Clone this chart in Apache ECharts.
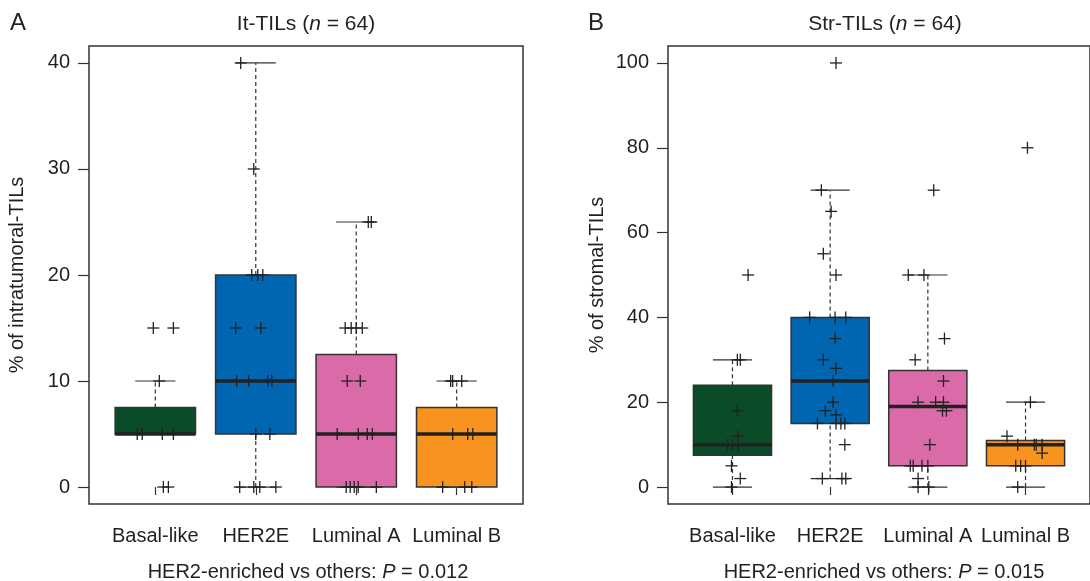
<!DOCTYPE html>
<html><head><meta charset="utf-8">
<script src="https://cdn.jsdelivr.net/npm/echarts@6/dist/echarts.min.js"></script>
<style>html,body{margin:0;padding:0;background:#fff}#c{width:1090px;height:581px}</style>
</head><body><div id="c"></div>
<script>
const categories = ['Basal-like', 'HER2E', 'Luminal A', 'Luminal B'];
const boxColors = ['#0a4b28', '#0066b1', '#db6aa9', '#f7931e'];
const itTicks = [0, 10, 20, 30, 40];
const strTicks = [0, 20, 40, 60, 80, 100];
// box stats: [lower whisker, Q1, median, Q3, upper whisker]
const itStats = [[5, 5, 5, 7.5, 10], [0, 5, 10, 20, 40], [0, 0, 5, 12.5, 25], [0, 0, 5, 7.5, 10]];
const strStats = [[0, 7.5, 10, 24, 30], [2, 15, 25, 40, 70], [0, 5, 19, 27.5, 50], [0, 5, 10, 11, 20]];
// individual samples (values) and horizontal jitter
const itBasalVal = [15, 15, 10, 5, 5, 5, 5, 0, 0];
const itBasalJit = [-0.02, 0.18, 0.04, -0.18, -0.13, 0.07, 0.18, 0.08, 0.13];
const itHer2Val = [40, 30, 20, 20, 20, 15, 15, 10, 10, 10, 10, 5, 5, 0, 0, 0, 0];
const itHer2Jit = [-0.15, -0.02, -0.04, 0.02, 0.07, -0.20, 0.05, -0.19, -0.07, 0.12, 0.16, 0.00, 0.14, -0.16, -0.02, 0.04, 0.20];
const itLumAVal = [25, 25, 15, 15, 15, 15, 10, 10, 5, 5, 5, 5, 0, 0, 0, 0, 0];
const itLumAJit = [0.12, 0.15, -0.11, -0.05, 0.00, 0.06, -0.09, 0.04, -0.19, 0.02, 0.11, 0.16, -0.10, -0.06, -0.02, 0.02, 0.20];
const itLumBVal = [10, 10, 10, 5, 5, 5, 0, 0, 0];
const itLumBJit = [-0.06, -0.04, 0.05, -0.04, 0.11, 0.16, -0.14, 0.08, 0.15];
const strBasalVal = [50, 30, 30, 18, 12, 10, 10, 10, 5, 2, 0];
const strBasalJit = [0.16, 0.05, 0.08, 0.05, 0.06, -0.05, 0.00, 0.06, -0.01, 0.08, -0.01];
const strHer2Val = [100, 70, 65, 55, 50, 40, 40, 40, 35, 30, 28, 25, 20, 18, 17, 15, 15, 15, 15, 10, 2, 2, 2];
const strHer2Jit = [0.06, -0.09, 0.01, -0.07, 0.06, -0.21, 0.05, 0.16, 0.05, -0.07, 0.06, 0.03, 0.03, -0.05, 0.06, -0.13, 0.06, 0.11, 0.15, 0.15, -0.08, 0.12, 0.16];
const strLumAVal = [70, 50, 50, 35, 30, 25, 20, 20, 20, 18, 18, 10, 5, 5, 5, 5, 2, 0, 0];
const strLumAJit = [0.06, -0.20, -0.04, 0.17, -0.13, 0.16, -0.10, 0.08, 0.16, 0.15, 0.19, 0.02, -0.18, -0.15, -0.06, 0.00, -0.10, -0.10, 0.01];
const strLumBVal = [80, 20, 12, 10, 10, 10, 10, 8, 5, 5, 5, 0];
const strLumBJit = [0.02, 0.05, -0.19, -0.08, 0.09, 0.11, 0.17, 0.17, -0.10, -0.05, 0.00, -0.08];

const FONT = '"Liberation Sans", Arial, Helvetica, sans-serif';
const TXT = '#231f20';

function pts(groups) {
  const out = [];
  groups.forEach((g, i) => g[0].forEach((v, k) => out.push([i + 1 + g[1][k], v])));
  return out;
}
const itPoints = pts([[itBasalVal, itBasalJit], [itHer2Val, itHer2Jit], [itLumAVal, itLumAJit], [itLumBVal, itLumBJit]]);
const strPoints = pts([[strBasalVal, strBasalJit], [strHer2Val, strHer2Jit], [strLumAVal, strLumAJit], [strLumBVal, strLumBJit]]);

function boxRender(params, api) {
  const i = api.value(0);
  const lo = api.value(1), q1 = api.value(2), md = api.value(3), q3 = api.value(4), hi = api.value(5);
  const hw = 0.4, cw = 0.2;
  const P = (x, y) => api.coord([x, y]);
  const color = boxColors[i - 1];
  const dash = { stroke: '#333', lineWidth: 1.2, lineDash: [4, 3] };
  const solid = { stroke: '#333', lineWidth: 1.2 };
  const line = (a, b, st) => ({ type: 'line', shape: { x1: a[0], y1: a[1], x2: b[0], y2: b[1] }, style: st });
  const tl = P(i - hw, q3), br = P(i + hw, q1);
  const kids = [];
  if (hi > q3) kids.push(line(P(i, q3), P(i, hi), dash));
  if (lo < q1) kids.push(line(P(i, lo), P(i, q1), dash));
  kids.push(line(P(i - cw, hi), P(i + cw, hi), solid));
  kids.push(line(P(i - cw, lo), P(i + cw, lo), solid));
  kids.push({ type: 'rect', shape: { x: tl[0], y: tl[1], width: br[0] - tl[0], height: br[1] - tl[1] },
    style: { fill: color, stroke: '#333', lineWidth: 1.5 } });
  kids.push(line(P(i - hw, md), P(i + hw, md), { stroke: '#222', lineWidth: 3.5 }));
  return { type: 'group', children: kids };
}
function plusRender(params, api) {
  const c = api.coord([api.value(0), api.value(1)]);
  const h = 6;
  const st = { stroke: '#222', lineWidth: 1.3 };
  return {
    type: 'group', children: [
      { type: 'line', shape: { x1: c[0] - h, y1: c[1], x2: c[0] + h, y2: c[1] }, style: st },
      { type: 'line', shape: { x1: c[0], y1: c[1] - h, x2: c[0], y2: c[1] + h }, style: st }
    ]
  };
}

function xAxis(gi) {
  return {
    type: 'value', gridIndex: gi, min: 0.34, max: 4.66,
    splitLine: { show: false }, axisLine: { show: false },
    axisTick: { show: true, customValues: [1, 2, 3, 4], length: 8, lineStyle: { color: '#333', width: 1.2 } },
    axisLabel: { customValues: [1, 2, 3, 4], formatter: v => categories[Math.round(v) - 1],
      margin: 22, fontSize: 20, color: TXT, fontFamily: FONT }
  };
}
function yAxis(gi, min, max, ticks, name, gap) {
  return {
    type: 'value', gridIndex: gi, min: min, max: max,
    splitLine: { show: false }, axisLine: { show: false },
    axisTick: { show: true, customValues: ticks, length: 11, lineStyle: { color: '#333', width: 1.2 } },
    axisLabel: { customValues: ticks, margin: 19, fontSize: 20, color: TXT, fontFamily: FONT },
    name: name, nameLocation: 'middle', nameGap: gap,
    nameTextStyle: { fontSize: 20, color: TXT, fontFamily: FONT }
  };
}

const chart = echarts.init(document.getElementById('c'), null, { renderer: 'canvas' });
chart.setOption({
  animation: false,
  backgroundColor: '#fff',
  grid: [
    { left: 89, top: 46, width: 434, height: 458, show: true, borderColor: '#333', borderWidth: 1.5, backgroundColor: 'transparent' },
    { left: 668, top: 46, width: 434, height: 458, show: true, borderColor: '#333', borderWidth: 1.5, backgroundColor: 'transparent' }
  ],
  xAxis: [xAxis(0), xAxis(1)],
  yAxis: [
    yAxis(0, -1.6, 41.6, itTicks, '% of intratumoral-TILs', 62),
    yAxis(1, -4, 104, strTicks, '% of stromal-TILs', 61)
  ],
  series: [
    { type: 'custom', xAxisIndex: 0, yAxisIndex: 0, renderItem: boxRender, encode: { x: 0, y: [1, 2, 3, 4, 5] },
      data: itStats.map((s, i) => [i + 1].concat(s)), z: 2 },
    { type: 'custom', xAxisIndex: 0, yAxisIndex: 0, renderItem: plusRender, encode: { x: 0, y: 1 }, data: itPoints, z: 3 },
    { type: 'custom', xAxisIndex: 1, yAxisIndex: 1, renderItem: boxRender, encode: { x: 0, y: [1, 2, 3, 4, 5] },
      data: strStats.map((s, i) => [i + 1].concat(s)), z: 2 },
    { type: 'custom', xAxisIndex: 1, yAxisIndex: 1, renderItem: plusRender, encode: { x: 0, y: 1 }, data: strPoints, z: 3 }
  ],
  graphic: [
    { type: 'text', left: 10, top: 11, style: { text: 'A', fontSize: 24, fill: TXT, fontFamily: FONT } },
    { type: 'text', left: 588, top: 11, style: { text: 'B', fontSize: 24, fill: TXT, fontFamily: FONT } },
    { type: 'text', x: 306, y: 24, style: { text: 'It-TILs ({i|n} = 64)', fontSize: 21, fill: TXT, fontFamily: FONT,
      align: 'center', verticalAlign: 'middle', rich: { i: { fontStyle: 'italic', fontSize: 21, fill: TXT, fontFamily: FONT } } } },
    { type: 'text', x: 885, y: 24, style: { text: 'Str-TILs ({i|n} = 64)', fontSize: 21, fill: TXT, fontFamily: FONT,
      align: 'center', verticalAlign: 'middle', rich: { i: { fontStyle: 'italic', fontSize: 21, fill: TXT, fontFamily: FONT } } } },
    { type: 'text', x: 308, y: 572, style: { text: 'HER2-enriched vs others: {i|P} = 0.012', fontSize: 20, fill: TXT, fontFamily: FONT,
      align: 'center', verticalAlign: 'middle', rich: { i: { fontStyle: 'italic', fontSize: 20, fill: TXT, fontFamily: FONT } } } },
    { type: 'text', x: 884, y: 572, style: { text: 'HER2-enriched vs others: {i|P} = 0.015', fontSize: 20, fill: TXT, fontFamily: FONT,
      align: 'center', verticalAlign: 'middle', rich: { i: { fontStyle: 'italic', fontSize: 20, fill: TXT, fontFamily: FONT } } } }
  ]
});
</script></body></html>
